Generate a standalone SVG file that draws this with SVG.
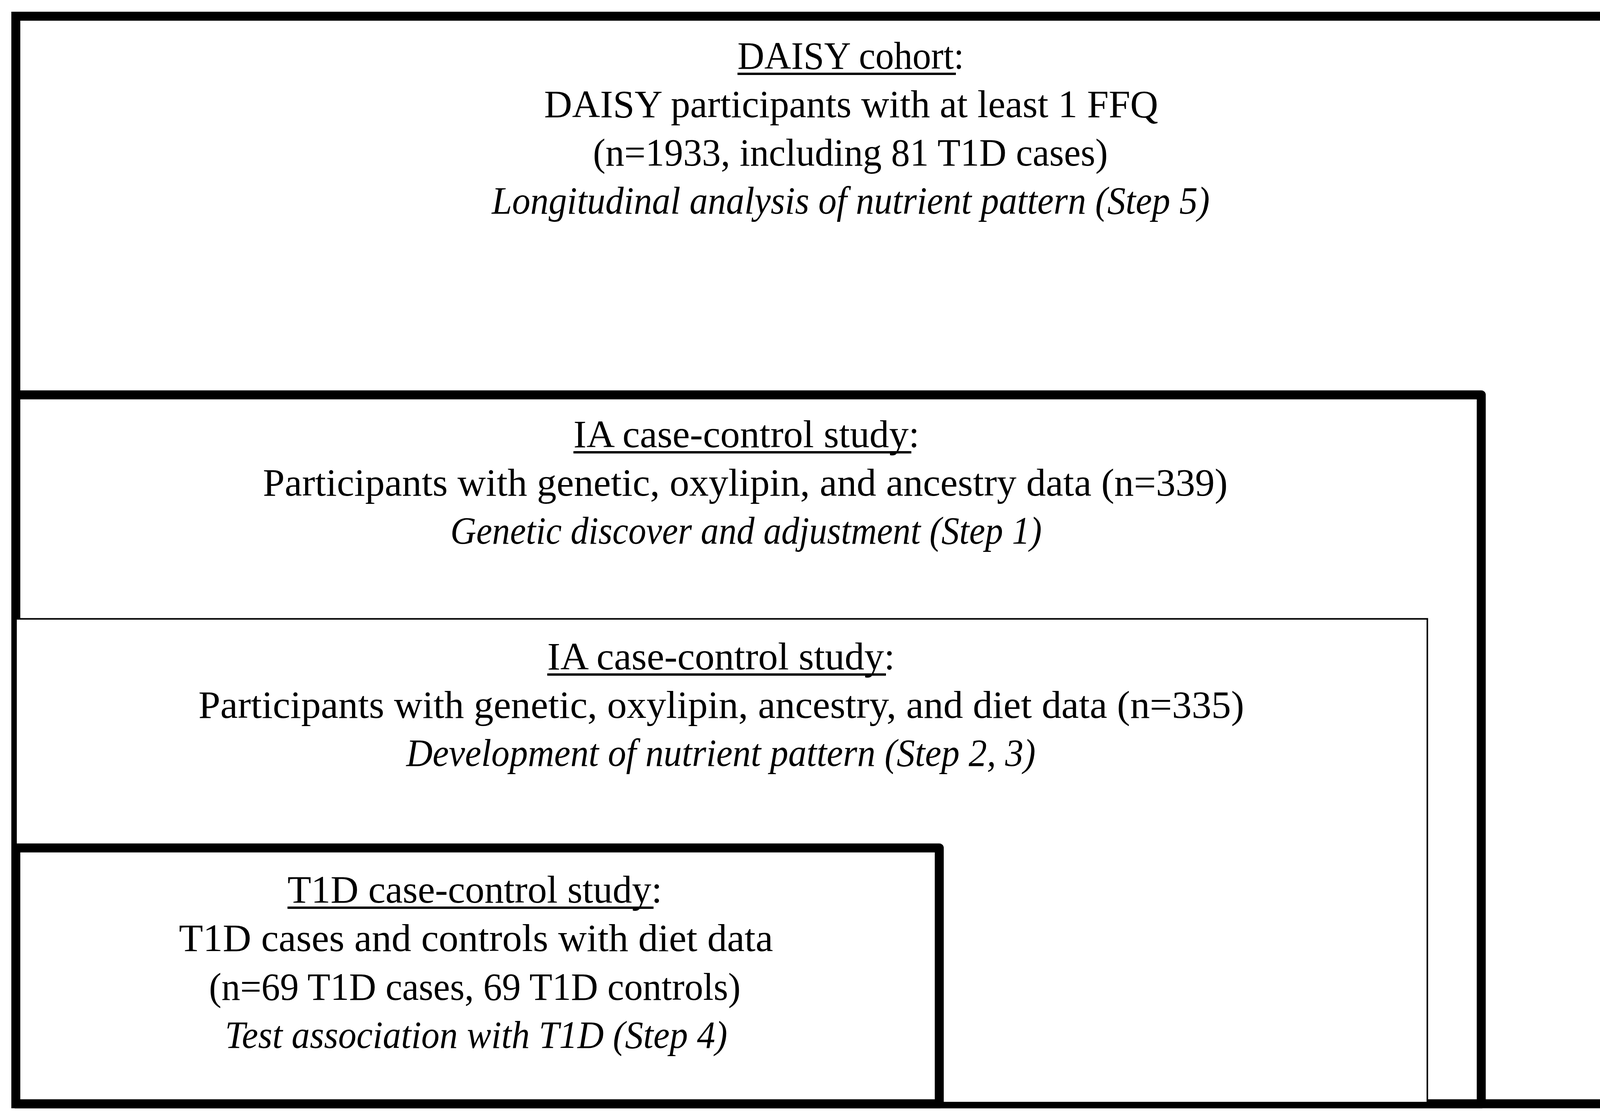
<svg xmlns="http://www.w3.org/2000/svg" width="4371" height="2865" viewBox="0 0 4371 2865">
  <style>
    .box { fill: #ffffff; stroke: #000000; }
    .thick { stroke-width: 23; }
    .thin { stroke-width: 4; }
    .t { font-family: "Liberation Serif", "DejaVu Serif", serif; font-size: 100px; fill: #000000; }
    .it { font-style: italic; }
    .ul { stroke: #000000; stroke-width: 6; }
  </style>
  <rect x="0" y="0" width="4371" height="2865" fill="#ffffff"/>

  <g id="daisy-cohort">
    <rect class="box thick" x="40.5" y="41.5" width="4288.5" height="2784.5"/>
    <text class="t" x="1888" y="176" textLength="580" lengthAdjust="spacingAndGlyphs">DAISY cohort:</text>
    <line class="ul" x1="1888" y1="189" x2="2447" y2="189"/>
    <text class="t" x="1393" y="300" textLength="1572" lengthAdjust="spacingAndGlyphs">DAISY participants with at least 1 FFQ</text>
    <text class="t" x="1518" y="424" textLength="1318" lengthAdjust="spacingAndGlyphs">(n=1933, including 81 T1D cases)</text>
    <text class="t it" x="1259" y="547" textLength="1838" lengthAdjust="spacingAndGlyphs">Longitudinal analysis of nutrient pattern (Step 5)</text>
  </g>

  <g id="ia-study-339">
    <rect class="box thick" x="40.5" y="1011" width="3751.5" height="1815" stroke-linejoin="round"/>
    <text class="t" x="1468" y="1145" textLength="886" lengthAdjust="spacingAndGlyphs">IA case-control study:</text>
    <line class="ul" x1="1468" y1="1158" x2="2333" y2="1158"/>
    <text class="t" x="673" y="1269" textLength="2470" lengthAdjust="spacingAndGlyphs">Participants with genetic, oxylipin, and ancestry data (n=339)</text>
    <text class="t it" x="1153" y="1392" textLength="1514" lengthAdjust="spacingAndGlyphs">Genetic discover and adjustment (Step 1)</text>
  </g>

  <g id="ia-study-335">
    <rect class="box thin" x="41" y="1584.5" width="3613" height="1238.5"/>
    <text class="t" x="1401" y="1714" textLength="890" lengthAdjust="spacingAndGlyphs">IA case-control study:</text>
    <line class="ul" x1="1401" y1="1727" x2="2268" y2="1727"/>
    <text class="t" x="508" y="1838" textLength="2677" lengthAdjust="spacingAndGlyphs">Participants with genetic, oxylipin, ancestry, and diet data (n=335)</text>
    <text class="t it" x="1040" y="1961" textLength="1611" lengthAdjust="spacingAndGlyphs">Development of nutrient pattern (Step 2, 3)</text>
  </g>

  <g id="t1d-study">
    <rect class="box thick" x="40.5" y="2171" width="2364" height="655" stroke-linejoin="round"/>
    <text class="t" x="736" y="2311" textLength="959" lengthAdjust="spacingAndGlyphs">T1D case-control study:</text>
    <line class="ul" x1="736" y1="2324" x2="1673" y2="2324"/>
    <text class="t" x="458" y="2435" textLength="1521" lengthAdjust="spacingAndGlyphs">T1D cases and controls with diet data</text>
    <text class="t" x="535" y="2560" textLength="1361" lengthAdjust="spacingAndGlyphs">(n=69 T1D cases, 69 T1D controls)</text>
    <text class="t it" x="576" y="2683" textLength="1286" lengthAdjust="spacingAndGlyphs">Test association with T1D (Step 4)</text>
  </g>

  <g id="connectors"></g>
</svg>
